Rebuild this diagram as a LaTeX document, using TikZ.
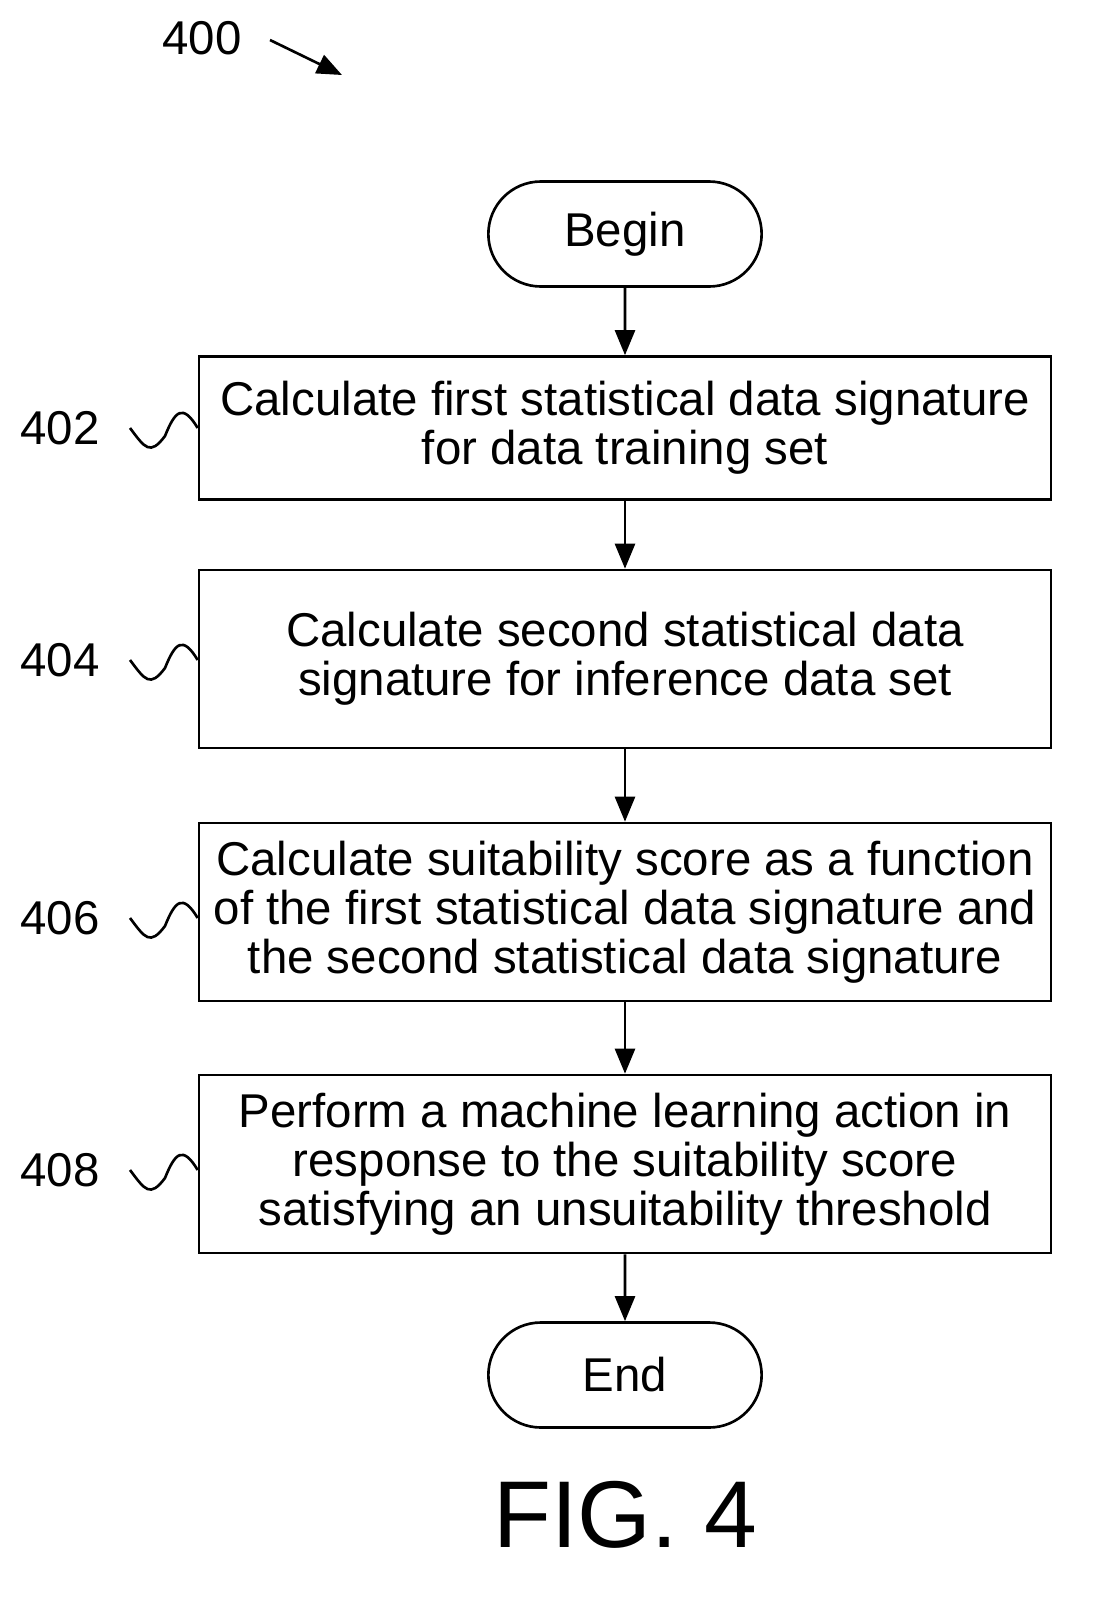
\documentclass[tikz,border=0pt]{standalone}
\usepackage{fontspec}
\setmainfont{Liberation Sans}
\usetikzlibrary{arrows.meta,positioning,shapes.misc}
\begin{document}
\begin{tikzpicture}[
    x=0.02cm, y=-0.02cm,
    procbox/.style={draw, line width=1.5pt, align=center, minimum width=852*0.02cm, font=\fontsize{27}{28}\selectfont, inner sep=0pt},
    term/.style={draw, line width=1.5pt, rounded rectangle, minimum width=285*0.02cm, minimum height=105*0.02cm, font=\fontsize{27}{28}\selectfont},
    lbl/.style={font=\fontsize{27}{28}\selectfont},
    arrow/.style={-{Triangle[length=5mm,width=4mm]}, line width=1.5pt},
    squig/.style={line width=1.5pt}
]
    \useasboundingbox (0,0) rectangle (1104,1614);
    \node[lbl] (fig) at (202,38) {400};
    \coordinate (figa) at (270,40);
    \coordinate (figb) at (342,75);
    \draw[arrow] (figa) -- (figb);

    \node[term] (begin) at (625,234) {Begin};
    \node[procbox, minimum height=143*0.02cm] (s402) at (625,428) {Calculate first statistical data signature\\for data training set};
    \node[procbox, minimum height=178*0.02cm] (s404) at (625,659) {Calculate second statistical data\\signature for inference data set};
    \node[procbox, minimum height=178*0.02cm] (s406) at (625,912) {Calculate suitability score as a function\\of the first statistical data signature and\\the second statistical data signature};
    \node[procbox, minimum height=178*0.02cm] (s408) at (625,1164) {Perform a machine learning action in\\response to the suitability score\\satisfying an unsuitability threshold};
    \node[term] (end) at (625,1375) {End};
    \node[font=\fontsize{54}{60}\selectfont] (caption) at (625,1515) {FIG. 4};

    \draw[arrow] (begin) -- (s402);
    \draw[arrow] (s402) -- (s404);
    \draw[arrow] (s404) -- (s406);
    \draw[arrow] (s406) -- (s408);
    \draw[arrow] (s408) -- (end);

    % reference numerals
    \foreach \n/\y in {402/428, 404/660, 406/918, 408/1170} {
        \node[lbl] (l\n) at (60,\y) {\n};
        \coordinate (q\n) at (130,\y);
        \coordinate (m\n) at (165,\y+8);
        \draw[squig] (q\n) .. controls +(15,20) and +(-15,20) .. (m\n)
            .. controls +(10,-25) and +(-15,-25) .. (s\n.west |- q\n);
    }
\end{tikzpicture}
\end{document}
